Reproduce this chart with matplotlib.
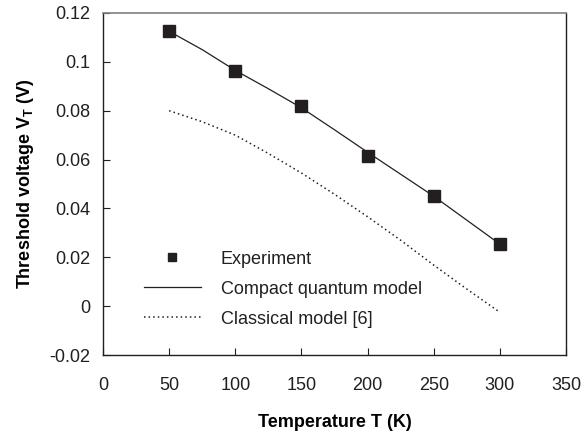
import matplotlib
matplotlib.use("Agg")
import matplotlib.pyplot as plt

plt.rcParams['font.family'] = ['Liberation Sans', 'DejaVu Sans']

exp_T = [50, 100, 150, 200, 250, 300]
exp_V = [0.1125, 0.0962, 0.0819, 0.0614, 0.0452, 0.0254]

model_T = [50, 75, 100, 125, 150, 175, 200, 225, 250, 275, 300]
model_V = [0.1125, 0.1050, 0.0965, 0.0890, 0.0812, 0.0722, 0.0630, 0.0540, 0.0450, 0.0352, 0.0254]

class_T = [50, 75, 100, 125, 150, 175, 200, 225, 250, 275, 300]
class_V = [0.0800, 0.0755, 0.0700, 0.0625, 0.0545, 0.0458, 0.0366, 0.0270, 0.0168, 0.0070, -0.0025]

xticks = [0, 50, 100, 150, 200, 250, 300, 350]
yticks = [-0.02, 0, 0.02, 0.04, 0.06, 0.08, 0.1, 0.12]
ylabels = ['-0.02', '0', '0.02', '0.04', '0.06', '0.08', '0.1', '0.12']

fig = plt.figure(figsize=(5.88, 4.34), dpi=100)
ax = fig.add_axes([103/588, 1 - 355/434, (566-103)/588, (355-13)/434])

dark = '#231f20'
ax.plot(exp_T, exp_V, linestyle='none', marker='s', markersize=8, color=dark, label='Experiment')
ax.plot(model_T, model_V, '-', color=dark, linewidth=0.9, label='Compact quantum model')
ax.plot(class_T, class_V, linestyle=(0, (1, 2)), color=dark, linewidth=1.1, label='Classical model [6]')

ax.set_xlim(0, 350)
ax.set_ylim(-0.02, 0.12)
ax.set_xticks(xticks)
ax.set_xticklabels([str(t) for t in xticks])
ax.set_yticks(yticks)
ax.set_yticklabels(ylabels)
ax.tick_params(direction='in', length=5, width=0.8, labelsize=13, colors=dark, pad=9)
ax.tick_params(axis='x', pad=16)
for s in ['left', 'bottom', 'right']:
    ax.spines[s].set_color(dark)
    ax.spines[s].set_linewidth(1.0)
ax.spines['top'].set_color('#808080')
ax.spines['top'].set_linewidth(1.2)

ax.set_xlabel('Temperature T (K)', fontsize=13, fontweight='bold', labelpad=14)
ax.set_ylabel('Threshold voltage V$_\\mathregular{T}$ (V)', fontsize=13, fontweight='bold', labelpad=10)

leg = ax.legend(loc='upper left', bbox_to_anchor=(0.0886, 0.305), frameon=False,
                borderpad=0, borderaxespad=0, markerscale=0.72,
                fontsize=13, handlelength=3.15, handletextpad=1.1, labelspacing=0.72)
for t in leg.get_texts():
    t.set_color(dark)

fig.savefig('out.png', dpi=100)
